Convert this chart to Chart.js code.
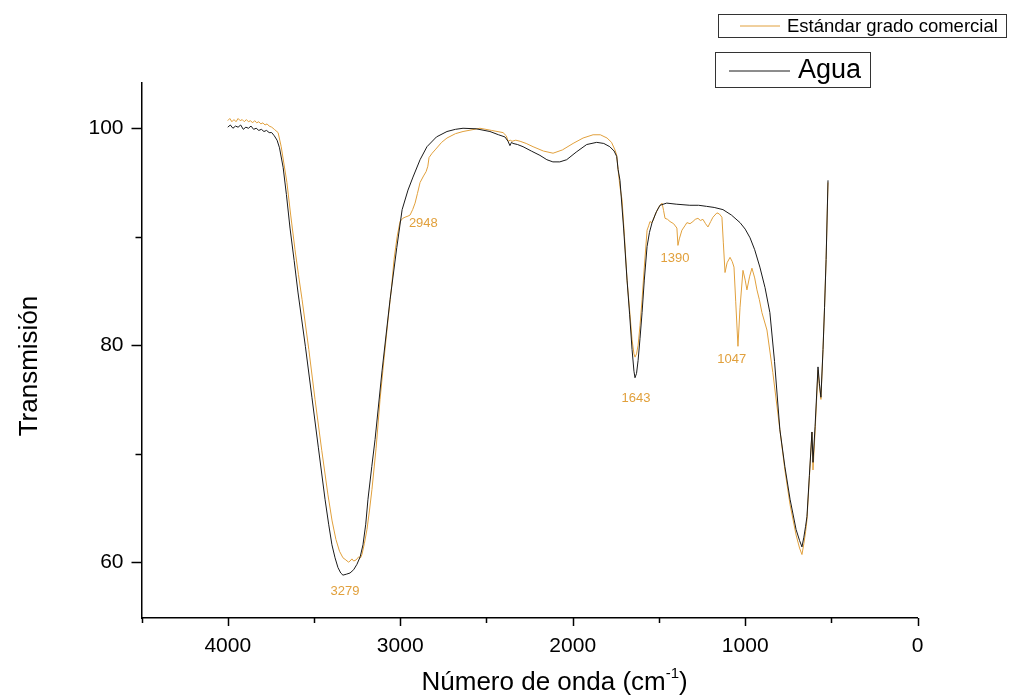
<!DOCTYPE html>
<html>
<head>
<meta charset="utf-8">
<script src="https://cdn.jsdelivr.net/npm/chart.js@4.4.0/dist/chart.umd.min.js"></script>
<style>
html,body{margin:0;padding:0;background:#fff;}
#wrap{position:relative;width:1014px;height:698px;}
</style>
</head>
<body>
<div id="wrap"><canvas id="c" width="1014" height="698"></canvas></div>
<script>
// ---- DATA ----
const aguaWavenumber = [4000,3985,3970,3955,3940,3925,3910,3895,3880,3865,3850,3835,3820,3805,3790,3775,3760,3745,3730,3714,3700,3679,3660,3639,3615,3593,3550,3512,3475,3436,3415,3396,3378,3361,3345,3332,3310,3291,3270,3251,3232,3216,3200,3187,3165,3146,3105,3059,3020,2989,2955,2926,2885,2845,2790,2729,2680,2636,2560,2480,2430,2393,2375,2364,2355,2346,2320,2288,2240,2190,2150,2115,2075,2035,1980,1919,1861,1820,1785,1760,1745,1737,1726,1705,1685,1670,1656,1645,1639,1630,1621,1610,1598,1585,1569,1555,1540,1515,1494,1455,1400,1321,1270,1224,1180,1129,1080,1030,1000,972,945,915,885,857,830,799,770,740,705,685,671,660,650,642,628,613,607,595,578,570,561,549,540,531,520];
const aguaTransmission = [100.1,100.3,100.0,100.2,100.1,100.3,99.9,100.1,100.0,100.2,99.9,100.0,99.8,99.9,99.7,99.8,99.6,99.6,99.3,98.9,98.2,96.4,93.9,90.8,87.8,84.9,79.9,75.2,70.6,65.8,63.5,61.6,60.4,59.5,59.0,58.8,58.9,59.0,59.3,59.8,60.5,61.6,63.5,65.8,68.8,71.3,77.7,84.2,89.0,92.5,94.3,95.5,97.1,98.3,99.2,99.7,99.9,100.0,99.95,99.7,99.4,99.2,98.8,98.4,98.7,98.6,98.5,98.3,97.9,97.5,97.1,96.9,96.9,97.1,97.8,98.5,98.7,98.6,98.3,97.9,97.4,96.2,95.2,90.8,86.0,82.8,79.6,77.6,77.0,77.4,78.6,80.6,83.0,86.0,89.1,90.4,91.3,92.3,92.9,93.1,93.0,92.9,92.9,92.8,92.7,92.5,92.0,91.3,90.7,89.9,88.8,87.2,85.3,83.0,78.5,72.2,68.8,65.8,63.0,62.0,61.4,62.3,63.3,64.2,68.0,72.0,69.2,72.5,78.0,76.5,75.2,79.6,83.5,87.9,95.2];

const estandarWavenumber = [4000,3988,3976,3964,3952,3940,3928,3916,3904,3892,3880,3868,3856,3844,3832,3820,3808,3796,3784,3772,3760,3745,3730,3708,3690,3675,3657,3635,3610,3590,3569,3530,3494,3455,3419,3395,3373,3352,3332,3315,3300,3291,3280,3270,3256,3240,3230,3222,3208,3193,3178,3164,3140,3117,3095,3071,3050,3036,3018,3001,2985,2972,2955,2943,2928,2914,2900,2885,2865,2850,2840,2833,2815,2798,2760,2729,2680,2636,2538,2470,2404,2385,2375,2362,2352,2330,2305,2270,2230,2170,2114,2060,1998,1940,1882,1840,1801,1775,1755,1745,1737,1726,1714,1700,1685,1670,1656,1645,1639,1630,1621,1610,1598,1585,1569,1560,1552,1540,1523,1505,1494,1482,1473,1465,1450,1436,1415,1396,1390,1382,1367,1350,1338,1320,1303,1290,1274,1260,1245,1230,1216,1200,1187,1164,1150,1135,1127,1117,1105,1088,1075,1065,1055,1042,1030,1013,1000,990,975,961,945,932,918,903,874,840,799,770,740,705,685,671,660,650,642,628,613,607,595,578,570,561,549,540,531,520];
const estandarTransmission = [100.7,100.9,100.6,100.8,100.6,100.9,100.7,100.8,100.6,100.8,100.6,100.7,100.5,100.7,100.5,100.6,100.4,100.5,100.3,100.4,100.2,100.1,99.9,99.6,98.3,96.8,95.0,92.0,88.8,86.5,84.2,79.6,75.0,70.3,66.2,63.8,62.1,61.0,60.4,60.2,60.0,60.1,60.3,60.1,60.2,60.5,60.4,60.7,61.7,63.0,64.8,66.7,70.5,75.0,78.6,82.3,85.4,87.9,90.0,91.4,91.7,91.8,91.9,92.0,92.5,93.1,94.0,95.0,95.6,96.0,96.5,97.3,97.7,98.0,98.7,99.1,99.5,99.7,100.0,99.8,99.6,99.3,98.8,98.9,98.8,98.9,98.8,98.6,98.3,97.9,97.7,98.0,98.6,99.1,99.4,99.4,99.1,98.7,98.0,97.5,96.2,94.6,93.4,90.0,86.0,83.2,80.5,79.2,78.9,79.2,80.0,81.8,84.2,87.2,90.6,91.0,91.4,91.3,92.0,92.6,92.9,93.1,92.4,91.7,91.6,91.4,91.2,90.8,89.2,89.8,90.6,91.0,91.3,91.2,91.4,91.6,91.7,91.5,91.6,91.2,90.9,91.4,91.8,92.2,92.1,91.8,89.5,86.7,87.6,88.1,87.7,87.2,84.0,79.9,83.5,86.9,86.0,85.1,86.3,87.1,86.2,85.1,84.2,83.0,81.4,77.5,72.2,68.5,65.3,62.5,61.3,60.7,61.7,62.8,63.9,67.8,72.0,68.5,72.0,77.7,76.2,75.0,79.6,83.5,87.9,95.0];

const peakLabels = ['3279','2948','1643','1390','1047'];
const peakLabelWavenumber = [3320,2866,1633,1407,1078];
const peakLabelTransmission = [57.3,91.2,75.1,88.0,78.7];

const xTickValues = [0,1000,2000,3000,4000];
const yTickValues = [60,80,100];

const seriesNames = ['Agua','Estándar grado comercial'];
const xTitle = 'Número de onda (cm';
const xTitleSup = '-1';
const yTitle = 'Transmisión';

// ---- STYLE ----
const ORANGE = '#E1A03C';
const BLACK = '#1a1a1a';
const FONT = '"Liberation Sans", Arial, sans-serif';

const toPts = (xs, ys) => xs.map((x, i) => ({x, y: ys[i]}));

const decorPlugin = {
  id: 'decor',
  afterDraw(chart) {
    const {ctx, chartArea: ca, scales: {x, y}} = chart;
    ctx.save();
    // ticks
    ctx.strokeStyle = '#000';
    ctx.lineWidth = 1.5;
    x.ticks.forEach(t => {
      const px = Math.round(x.getPixelForValue(t.value)) + 0.5;
      const major = xTickValues.includes(t.value);
      ctx.beginPath();
      ctx.moveTo(px, ca.bottom);
      ctx.lineTo(px, ca.bottom + (major ? 8 : 5));
      ctx.stroke();
    });
    y.ticks.forEach(t => {
      const py = Math.round(y.getPixelForValue(t.value)) + 0.5;
      const major = yTickValues.includes(t.value);
      ctx.beginPath();
      ctx.moveTo(ca.left, py);
      ctx.lineTo(ca.left - (major ? 10 : 6), py);
      ctx.stroke();
    });
    // peak labels
    ctx.fillStyle = ORANGE;
    ctx.font = '13px ' + FONT;
    ctx.textAlign = 'center';
    ctx.textBaseline = 'middle';
    peakLabels.forEach((s, i) => {
      ctx.fillText(s, x.getPixelForValue(peakLabelWavenumber[i]), y.getPixelForValue(peakLabelTransmission[i]));
    });
    // axis titles
    ctx.fillStyle = '#000';
    ctx.font = '26px ' + FONT;
    const w1 = ctx.measureText(xTitle).width;
    ctx.font = '15px ' + FONT;
    const w2 = ctx.measureText(xTitleSup).width;
    ctx.font = '26px ' + FONT;
    const total = w1 + w2 + ctx.measureText(')').width;
    const cx = (ca.left + ca.right) / 2 + 25;
    const sx = cx - total / 2;
    const ty = 683;
    ctx.textAlign = 'left';
    ctx.fillText(xTitle, sx, ty);
    ctx.font = '15px ' + FONT;
    ctx.fillText(xTitleSup, sx + w1, ty - 9);
    ctx.font = '26px ' + FONT;
    ctx.fillText(')', sx + w1 + w2, ty);
    ctx.save();
    ctx.translate(30, 366);
    ctx.rotate(-Math.PI / 2);
    ctx.textAlign = 'center';
    ctx.fillText(yTitle, 0, 0);
    ctx.restore();
    // legends
    ctx.lineWidth = 1;
    ctx.strokeStyle = '#333';
    ctx.strokeRect(718.5, 14.5, 288, 23);
    ctx.strokeStyle = ORANGE;
    ctx.beginPath(); ctx.moveTo(740, 26); ctx.lineTo(780, 26); ctx.stroke();
    ctx.fillStyle = '#000';
    ctx.font = '18.5px ' + FONT;
    ctx.textAlign = 'left';
    ctx.fillText(seriesNames[1], 787, 26.5);
    ctx.strokeStyle = '#333';
    ctx.strokeRect(715.5, 52.5, 155, 35);
    ctx.strokeStyle = BLACK;
    ctx.beginPath(); ctx.moveTo(729, 71); ctx.lineTo(790, 71); ctx.stroke();
    ctx.font = '27px ' + FONT;
    ctx.fillText(seriesNames[0], 798, 71);
    ctx.restore();
  }
};

new Chart(document.getElementById('c'), {
  type: 'line',
  data: {
    datasets: [
      {label: seriesNames[0], data: toPts(aguaWavenumber, aguaTransmission), borderColor: BLACK, borderWidth: 1, pointRadius: 0, tension: 0, fill: false},
      {label: seriesNames[1], data: toPts(estandarWavenumber, estandarTransmission), borderColor: ORANGE, borderWidth: 1, pointRadius: 0, tension: 0, fill: false}
    ]
  },
  options: {
    responsive: false,
    animation: false,
    layout: {padding: {left: 0, right: 96.3, top: 82.7, bottom: 0}},
    plugins: {legend: {display: false}, tooltip: {enabled: false}},
    scales: {
      x: {
        type: 'linear', reverse: true, min: 0, max: 4500,
        afterFit(s) { s.height = 80; },
        border: {display: true, color: '#000', width: 1.5},
        grid: {display: true, drawOnChartArea: false, drawTicks: false, color: 'transparent'},
        ticks: {stepSize: 500, includeBounds: false, autoSkip: false, maxRotation: 0, padding: 16, color: '#000',
          font: {family: FONT, size: 21},
          callback: v => xTickValues.includes(v) ? String(v) : ''}
      },
      y: {
        type: 'linear', min: 54.85, max: 104.2,
        afterFit(s) { s.width = 141.5; },
        border: {display: true, color: '#000', width: 1.5},
        grid: {display: true, drawOnChartArea: false, drawTicks: false, color: 'transparent'},
        ticks: {stepSize: 10, includeBounds: false, autoSkip: false, padding: 18, color: '#000',
          font: {family: FONT, size: 21},
          callback: v => yTickValues.includes(v) ? String(v) : ''}
      }
    }
  },
  plugins: [decorPlugin]
});
</script>
</body>
</html>
